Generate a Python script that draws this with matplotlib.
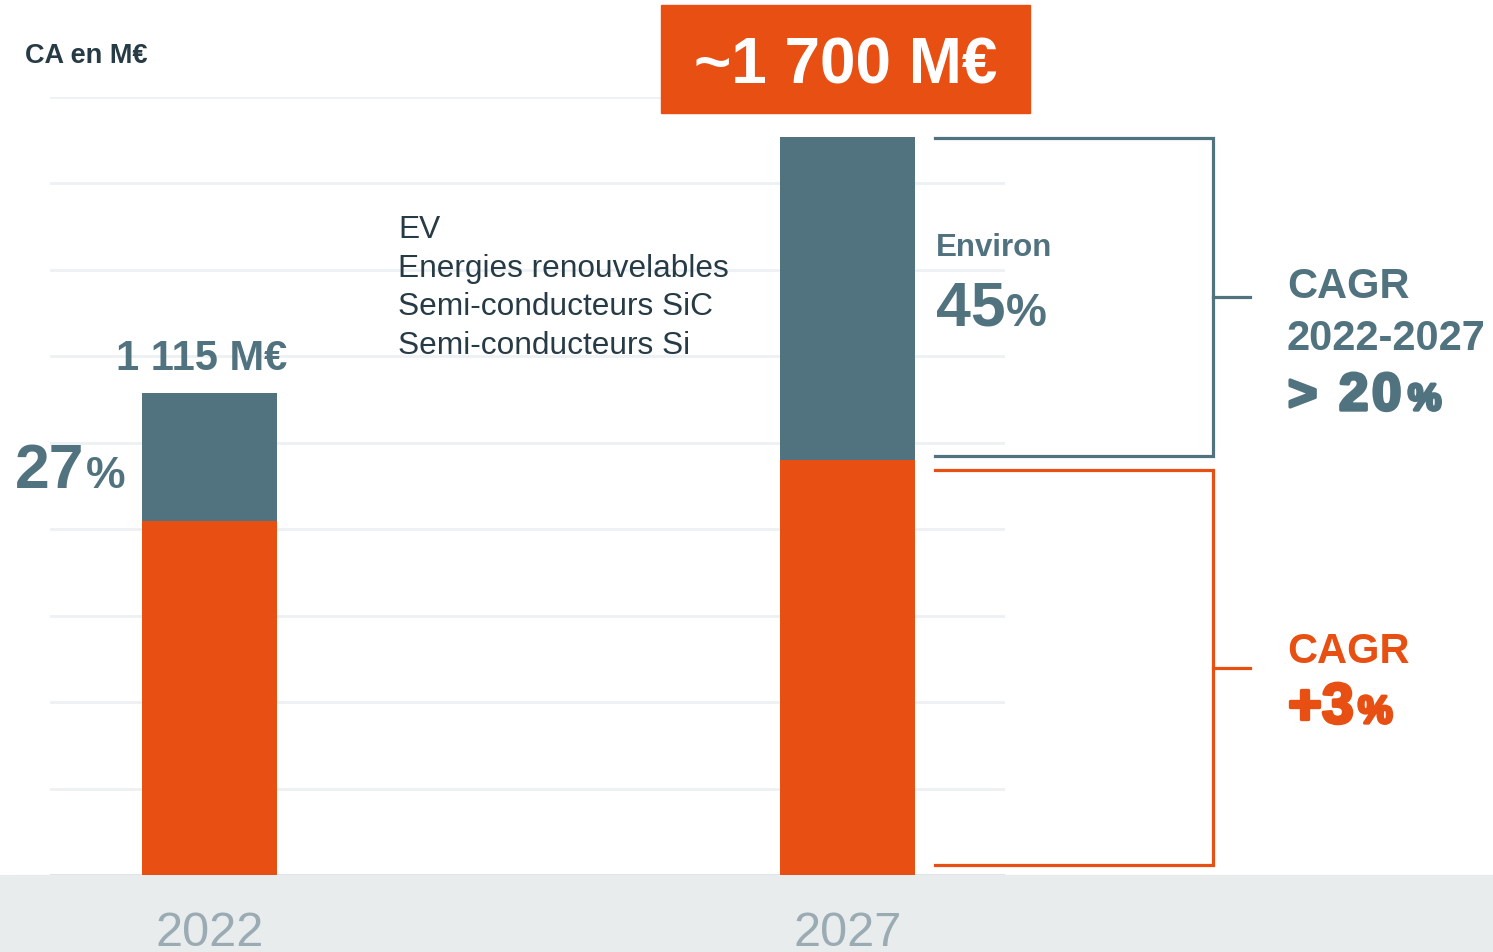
import matplotlib
matplotlib.use("Agg")
import matplotlib.pyplot as plt
import matplotlib.patheffects as pe
from matplotlib.patches import Rectangle

plt.rcParams['font.family'] = ['Liberation Sans', 'DejaVu Sans']

# données (CA en M€)
years = ['2022', '2027']
other = [819, 960]        # part orange
growth = [296, 748]       # part EV / renouvelables / SiC / Si
totals_txt = ['1 115 M€', '~1 700 M€']
segments = ['EV', 'Energies renouvelables', 'Semi-conducteurs SiC', 'Semi-conducteurs Si']

ORANGE = '#E84F12'
SLATE = '#51727F'
DARK = '#263B45'
GRIDC = '#EEF1F4'
BAND = '#E8ECEC'
YEARC = '#9AABB3'

W, H = 1493, 952
fig = plt.figure(figsize=(W / 100, H / 100), dpi=100)

def fx(x):
    return x / W

def fy(y):
    return 1 - y / H

# bande grise du bas
fig.patches.append(Rectangle((0, 0), 1, 77 / H, transform=fig.transFigure,
                             color=BAND, zorder=-5))

ax = fig.add_axes([50 / W, 77 / H, 955 / W, 778 / H])
ax.patch.set_alpha(0)
ax.set_xlim(-0.25, 1.2469)
ax.set_ylim(0, 1800)
ax.set_yticks(range(0, 2000, 200))
ax.yaxis.grid(True, color=GRIDC, lw=2)
ax.axhline(0, color='#DDE3E6', lw=2)
ax.set_axisbelow(True)
ax.tick_params(axis='y', length=0, labelleft=False)
for s in ax.spines.values():
    s.set_visible(False)

x = range(len(years))
bw = 135 / 638
ax.bar(x, other, width=bw, color=ORANGE, zorder=3)
ax.bar(x, growth, bottom=other, width=bw, color=SLATE, zorder=3)

ax.set_xticks(list(x))
ax.set_xticklabels(years, fontsize=35, color=YEARC)
ax.tick_params(axis='x', length=0, pad=26)

# total 2022
tot0 = other[0] + growth[0]
ax.annotate(totals_txt[0], xy=(0, tot0), xytext=(-6, 10), textcoords='offset points',
            ha='center', va='bottom', fontsize=30, fontweight='bold', color=SLATE,
            annotation_clip=False)

# encadré total 2027
fig.patches.append(Rectangle((fx(661), fy(113)), fx(1030) - fx(661), (113 - 5) / H,
                             transform=fig.transFigure, color=ORANGE, zorder=1))
fig.text(fx(845.5), fy(83), totals_txt[1], ha='center', va='baseline',
         fontsize=46, fontweight='bold', color='white', zorder=2)

# accolades
tot1 = other[1] + growth[1]
xl, xr, xt = 1.1371, 1.5729, 1.6309

def bracket(y0, y1, color):
    ax.plot([xl, xr, xr, xl], [y1, y1, y0, y0], color=color, lw=2.3,
            clip_on=False, solid_joinstyle='miter')
    m = (y0 + y1) / 2
    ax.plot([xr, xt], [m, m], color=color, lw=2.3, clip_on=False)

bracket(other[1] + 10, tot1 - 2, SLATE)
bracket(23, other[1] - 23, ORANGE)

# textes
fig.text(fx(25), fy(63), 'CA en M€', ha='left', va='baseline',
         fontsize=19.5, fontweight='bold', color=DARK)

for i, lab in enumerate(segments):
    fig.text(fx(398), fy(238 + i * 38.5), lab, ha='left', va='baseline',
             fontsize=22.8, color=DARK)

fig.text(fx(15), fy(488), '27', ha='left', va='baseline',
         fontsize=45, fontweight='bold', color=SLATE)
fig.text(fx(86), fy(488), '%', ha='left', va='baseline',
         fontsize=32, fontweight='bold', color=SLATE)

fig.text(fx(936), fy(256), 'Environ', ha='left', va='baseline',
         fontsize=22.5, fontweight='bold', color=SLATE)
fig.text(fx(936), fy(326), '45', ha='left', va='baseline',
         fontsize=45, fontweight='bold', color=SLATE)
fig.text(fx(1006), fy(326), '%', ha='left', va='baseline',
         fontsize=33, fontweight='bold', color=SLATE)

# texte "gras noir" simulé par un contour
def heavy(c, w=2.2):
    return [pe.withStroke(linewidth=w, foreground=c)]

fig.text(fx(1287), fy(298), 'CAGR', ha='left', va='baseline',
         fontsize=30, fontweight='bold', color=SLATE)
fig.text(fx(1287), fy(350), '2022-2027', ha='left', va='baseline',
         fontsize=30, fontweight='bold', color=SLATE)

def heavy_chars(chars, xs, y, sizes, color):
    for ch, xp, sz in zip(chars, xs, sizes):
        fig.text(fx(xp), fy(y), ch, ha='left', va='baseline', fontsize=sz,
                 fontweight='bold', color=color, path_effects=heavy(color, 2.4))

heavy_chars(['>', '2', '0', '%'], [1288, 1339, 1372, 1408], 410,
            [36, 38, 38, 27], SLATE)

fig.text(fx(1287), fy(663), 'CAGR', ha='left', va='baseline',
         fontsize=30, fontweight='bold', color=ORANGE)
heavy_chars(['+', '3', '%'], [1288, 1322, 1358], 723, [41, 41, 28], ORANGE)

fig.savefig('out.png', dpi=100)
